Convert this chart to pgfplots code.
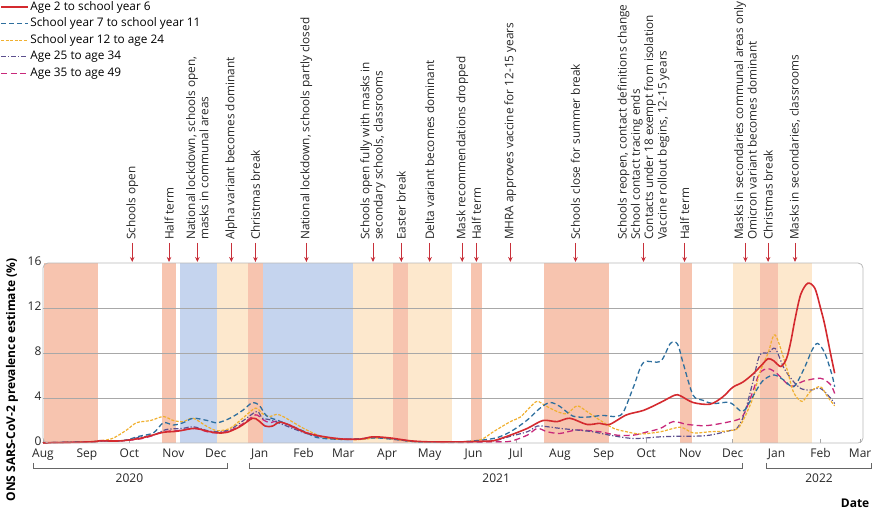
\documentclass[border=0pt]{standalone}
\usepackage{fontspec}
\setmainfont{Open Sans}
\usepackage{pgfplots}
\pgfplotsset{compat=1.18}
\usetikzlibrary{arrows.meta}
\definecolor{cRed}{HTML}{D42A2F}
\definecolor{cBlue}{HTML}{2E6F9E}
\definecolor{cYellow}{HTML}{F0B030}
\definecolor{cPurple}{HTML}{5C4F8E}
\definecolor{cMag}{HTML}{C8287A}
\definecolor{cArrow}{HTML}{C8303A}
\definecolor{cSalmon}{HTML}{F7C4AF}
\definecolor{cLBlue}{HTML}{C5D4EE}
\definecolor{cPeach}{HTML}{FDE8CD}
\definecolor{cGrid}{HTML}{A8A8A8}
\newcommand\annfont{\fontsize{11.8}{13.3}\selectfont}
\newcommand\ann[2]{%
  \draw[-{Stealth[length=5pt,width=4.5pt]}, cArrow, line width=0.9pt] ([yshift=20pt]axis cs:#1,16) -- ([yshift=1pt]axis cs:#1,16);
  \node[rotate=90, anchor=west, align=left, font=\annfont, inner sep=0pt, text=black!85] at ([yshift=23pt]axis cs:#1,16) {#2};}
\newcommand\yearbr[4]{%
  \draw[gray!80!black, line width=0.7pt] ([yshift=-20pt]axis cs:#1,0) -- ([yshift=-25pt]axis cs:#1,0) -- ([yshift=-25pt]axis cs:#2,0) -- ([yshift=-20pt]axis cs:#2,0);
  \node[font=\fontsize{12}{14}\selectfont, text=black!85] at ([yshift=-35pt]axis cs:#3,0) {#4};}
\newcommand\band[3]{\addplot[draw=none, fill=#1, forget plot] coordinates {(#2,16)(#3,16)} \closedcycle;}
\begin{document}
\begin{tikzpicture}
\path (0,0) rectangle (873pt,511pt);
\begin{axis}[
  at={(43pt,68pt)}, anchor=south west,
  scale only axis, width=820pt, height=180pt,
  xmin=0, xmax=579, ymin=0, ymax=16,
  clip=false,
  axis line style={draw=none},
  xtick={0,31,61,92,122,153,184,212,243,273,304,334,365,396,426,457,487,518,549,577},
  xticklabels={Aug,Sep,Oct,Nov,Dec,Jan,Feb,Mar,Apr,May,Jun,Jul,Aug,Sep,Oct,Nov,Dec,Jan,Feb,Mar},
  ytick={0,4,8,12,16},
  xtick pos=bottom, ytick pos=left,
  tick align=inside,
  x tick style={draw=cGrid, line width=0.6pt}, major tick length=4pt,
  y tick style={draw=none},
  tick label style={font=\fontsize{12}{14}\selectfont, text=black!85},
  xticklabel style={yshift=-2pt},
  yticklabel style={xshift=2pt, yshift=1.5pt},
  /pgf/number format/assume math mode=true,
  ylabel={ONS SARS-CoV-2 prevalence estimate (\%)},
  ylabel style={at={(axis description cs:-0.0378,0.35)}, anchor=center, font=\bfseries\fontsize{12}{14}\selectfont},
  reverse legend,
  legend cell align=left,
  legend style={at={(axis description cs:-0.0524,2.461)}, anchor=north west, draw=none, fill=none,
    font=\fontsize{11.8}{13}\selectfont, row sep=2.5pt, inner sep=0pt,
    nodes={inner sep=1.5pt, font=\fontsize{11.8}{13}\selectfont, text height=8.5pt, text depth=2.5pt}},
  legend image code/.code={\draw[#1] (0pt,0pt) -- (27pt,0pt);},
]
% background bands
\band{cSalmon}{1}{39}
\band{cSalmon}{84}{94}
\band{cLBlue}{97}{123}
\band{cPeach}{123}{145}
\band{cSalmon}{145}{155}
\band{cLBlue}{155}{219}
\band{cPeach}{219}{247}
\band{cSalmon}{247}{258}
\band{cPeach}{258}{289}
\band{cSalmon}{302}{310}
\band{cSalmon}{354}{400}
\band{cSalmon}{450}{458}
\band{cPeach}{487}{506}
\band{cSalmon}{506}{519}
\band{cPeach}{519}{543}
% grid
\addplot[cGrid, line width=0.6pt, forget plot] coordinates {(0,4)(579,4)};
\addplot[cGrid, line width=0.6pt, forget plot] coordinates {(0,8)(579,8)};
\addplot[cGrid, line width=0.6pt, forget plot] coordinates {(0,12)(579,12)};
% Age 35 to 49
\addplot[cMag, line width=1.3pt, dash pattern=on 6pt off 3.5pt, smooth, tension=0.5] coordinates {
(0,0.02)(36,0.12)(40,0.18)(56,0.2)(68,0.35)(76,0.6)(85,1.0)(95,1.1)(107,1.3)(116,1.0)(123,0.9)(132,1.1)(141,1.7)(150,2.5)(155,2.1)(160,1.8)(167,1.9)(186,0.9)(205,0.4)(224,0.35)(235,0.5)(250,0.35)(265,0.1)(294,0.05)(318,0.1)(330,0.15)(342,0.7)(349,1.3)(356,1.0)(365,0.85)(377,1.15)(393,1.0)(405,0.7)(417,0.7)(427,1.0)(436,1.3)(445,1.9)(455,1.65)(469,1.55)(490,2.05)(495,2.6)(501,4.5)(506,6.2)(512,6.6)(518,6.2)(528,5.05)(537,5.5)(549,5.75)(556,5.2)(559,4.4)};
\addlegendentry{Age 35 to age 49}
% Age 25 to 34
\addplot[cPurple, line width=1.2pt, dash pattern=on 5pt off 2pt on 1.2pt off 2pt, smooth, tension=0.5] coordinates {
(0,0.02)(36,0.12)(40,0.18)(56,0.2)(68,0.5)(78,0.7)(87,1.2)(99,1.3)(106,1.45)(116,1.1)(123,1.0)(132,1.2)(141,1.95)(151,2.8)(155,2.2)(162,2.0)(186,0.85)(205,0.35)(224,0.35)(235,0.5)(250,0.3)(265,0.1)(294,0.1)(318,0.2)(330,0.6)(342,1.0)(349,1.5)(356,1.45)(365,1.3)(377,1.15)(388,1.0)(400,0.7)(417,0.4)(436,0.55)(448,0.6)(459,0.6)(471,0.7)(485,1.1)(490,1.3)(495,2.5)(501,5.3)(506,7.8)(512,8.0)(517,8.4)(523,6.7)(529,5.6)(535,4.85)(542,4.7)(549,4.85)(556,4.0)(559,3.5)};
\addlegendentry{Age 25 to age 34}
% School year 12 to age 24
\addplot[cYellow, line width=1.2pt, dash pattern=on 3pt off 1.5pt, smooth, tension=0.5] coordinates {
(0,0.02)(30,0.1)(40,0.2)(49,0.4)(59,1.15)(66,1.8)(76,2.0)(85,2.35)(92,2.0)(99,1.9)(106,2.2)(116,1.45)(123,1.1)(132,1.3)(141,2.2)(150,3.1)(155,2.6)(160,2.35)(167,2.5)(184,1.3)(196,0.6)(205,0.35)(224,0.3)(235,0.45)(250,0.3)(265,0.1)(294,0.1)(309,0.3)(318,1.0)(330,1.9)(337,2.3)(344,3.2)(349,3.7)(355,3.3)(363,2.8)(370,2.6)(377,3.3)(384,2.8)(393,2.05)(403,1.3)(412,1.0)(422,0.8)(436,1.0)(450,1.4)(459,0.9)(471,1.0)(485,1.1)(492,1.5)(501,3.9)(506,6.2)(512,8.0)(517,9.6)(525,6.7)(530,4.5)(536,3.7)(542,4.6)(549,5.0)(554,4.1)(559,3.3)};
\addlegendentry{School year 12 to age 24}
% School year 7 to 11
\addplot[cBlue, line width=1.3pt, dash pattern=on 5pt off 3pt, smooth, tension=0.5] coordinates {
(0,0.02)(36,0.12)(40,0.2)(56,0.2)(68,0.6)(78,0.9)(85,1.8)(92,1.6)(99,1.8)(106,2.2)(116,2.0)(123,1.8)(132,2.2)(141,2.9)(148,3.6)(153,3.3)(158,2.4)(167,1.95)(184,1.05)(193,0.5)(205,0.35)(220,0.35)(235,0.45)(250,0.3)(265,0.1)(294,0.1)(318,0.4)(330,1.0)(342,2.05)(351,3.1)(358,3.6)(365,3.25)(374,2.4)(384,2.3)(395,2.45)(405,2.35)(410,2.8)(417,5.0)(424,7.15)(436,7.25)(443,8.85)(448,8.8)(452,7.1)(459,4.25)(466,3.8)(473,3.5)(485,3.6)(494,2.8)(501,4.1)(508,5.5)(516,6.05)(523,5.6)(530,5.0)(537,6.5)(543,8.25)(547,8.85)(552,8.0)(557,6.1)(559,5.0)};
\addlegendentry{School year 7 to school year 11}
% Age 2 to school year 6
\addplot[cRed, line width=1.6pt, smooth, tension=0.5] coordinates {
(0,0.02)(20,0.05)(36,0.12)(40,0.2)(47,0.18)(56,0.2)(68,0.4)(76,0.65)(85,0.95)(95,1.05)(107,1.3)(116,1.05)(123,0.9)(130,0.95)(139,1.45)(148,2.2)(152,2.0)(157,1.5)(162,1.5)(167,1.85)(174,1.6)(186,0.9)(199,0.55)(212,0.35)(224,0.35)(233,0.55)(245,0.45)(259,0.2)(273,0.1)(294,0.1)(309,0.15)(318,0.2)(330,0.7)(342,1.3)(353,2.0)(363,1.9)(372,2.2)(384,1.65)(393,1.75)(400,1.65)(412,2.5)(424,2.9)(436,3.6)(446,4.25)(450,4.2)(459,3.6)(471,3.45)(480,4.1)(487,4.95)(494,5.4)(501,6.1)(508,7.0)(512,7.5)(516,7.3)(521,6.8)(525,7.5)(528,9.0)(531,11.0)(535,13.2)(540,14.2)(545,13.75)(549,12.0)(552,10.5)(556,8.0)(559,6.2)};
\addlegendentry{Age 2 to school year 6}
% frame
\draw[gray!55, rounded corners=5pt, line width=0.8pt] (rel axis cs:0,0) rectangle (rel axis cs:1,1);
% annotations
\ann{63}{Schools open}
\ann{89}{Half term}
\ann{109}{National lockdown, schools open,\\masks in communal areas}
\ann{133}{Alpha variant becomes dominant}
\ann{150}{Christmas break}
\ann{186}{National lockdown, schools partly closed}
\ann{233}{Schools open fully with masks in\\secondary schools, classrooms}
\ann{253}{Easter break}
\ann{273}{Delta variant becomes dominant}
\ann{296}{Mask recommendations dropped}
\ann{306}{Half term}
\ann{330}{MHRA approves vaccine for 12-15 years}
\ann{376}{Schools close for summer break}
\ann{424}{Schools reopen, contact definitions change\\School contact tracing ends\\Contacts under 18 exempt from isolation\\Vaccine rollout begins, 12-15 years}
\ann{453}{Half term}
\ann{496}{Masks in secondaries communal areas only\\Omicron variant becomes dominant}
\ann{512}{Christmas break}
\ann{531}{Masks in secondaries, classrooms}
% year brackets
\yearbr{-7}{130}{61}{2020}
\yearbr{145.5}{494}{320}{2021}
\yearbr{511}{585}{548}{2022}
\node[font=\bfseries\fontsize{12}{14}\selectfont, anchor=east] at (axis description cs:1.012,-0.333) {Date};
\end{axis}
\pgfresetboundingbox
\useasboundingbox (0,0) rectangle (873pt,511pt);
\end{tikzpicture}
\end{document}
